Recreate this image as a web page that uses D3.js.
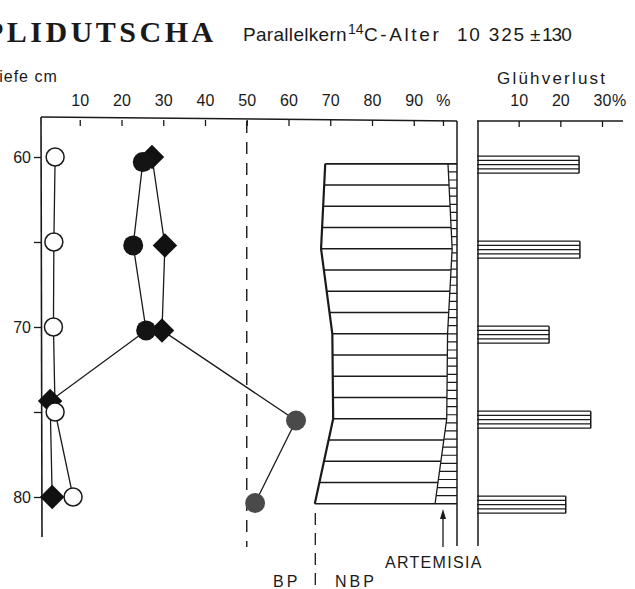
<!DOCTYPE html>
<html>
<head>
<meta charset="utf-8">
<script src="https://cdn.jsdelivr.net/npm/d3@7"></script>
<style>
  body { margin: 0; background: #fff; }
  svg { display: block; }
  text { font-family: "Liberation Sans", Arial, sans-serif; fill: #1a1a1a; }
</style>
</head>
<body>
<svg id="chart" width="635" height="589"></svg>
<script>
// depth samples (cm) and percentages
const openDepths = [60, 65, 70, 75, 80];
const openValues = [4.1, 3.8, 3.7, 4.1, 8.4];

const circleDepths = [60.3, 65.2, 70.2, 75.5, 80.35];
const circleValues = [25.1, 22.8, 25.9, 61.8, 52.0];

const diamondDepths = [60, 65.2, 70.2, 74.35, 80];
const diamondValues = [27.3, 30.4, 29.7, 2.9, 3.4];

// BP / NBP block
const nbpDepths = [60.4, 65.4, 70.4, 75.4, 80.4];
const bpValues = [68.8, 67.8, 70.5, 70.7, 66.3];
const artemisiaValues = [1.8, 0.8, 1.9, 2.1, 4.9];

// Glühverlust
const glDepths = [60, 65, 70, 75, 80];
const glValues = [24.5, 24.7, 17.3, 27.3, 21.3];

const pctTicks = [10, 20, 30, 40, 50, 60, 70, 80, 90, 97];
const pctLabels = ['10', '20', '30', '40', '50', '60', '70', '80', '90', '%'];
const depthTicks = [60, 65, 70, 75, 80];
const glTicks = [10, 20, 30];

const ink = '#1a1a1a';
const svg = d3.select('#chart');

const x = d3.scaleLinear().domain([0, 100]).range([38, 455.5]);
const y = d3.scaleLinear().domain([60, 80]).range([157, 497]);
const gx = d3.scaleLinear().domain([0, 30]).range([477, 602]);

// titles (left edge is cut off in the scan)
svg.append('text').attr('x', -15).attr('y', 42)
  .style('font-family', '"Liberation Serif", serif').style('font-weight', 'bold')
  .style('font-size', '30px').style('letter-spacing', '3.5px')
  .text('PLIDUTSCHA');

const sub = svg.append('g').style('font-size', '19px');
sub.append('text').attr('x', 243).attr('y', 41).style('letter-spacing', '0.3px').text('Parallelkern');
sub.append('text').attr('x', 348).attr('y', 34).style('font-size', '14px').text('14');
sub.append('text').attr('x', 364).attr('y', 41).style('letter-spacing', '2.6px').text('C-Alter');
sub.append('text').attr('x', 457).attr('y', 41).style('letter-spacing', '1.8px').text('10 325');
sub.append('text').attr('x', 530).attr('y', 41).text('±');
sub.append('text').attr('x', 542).attr('y', 41).style('letter-spacing', '-1px').text('130');

svg.append('text').attr('x', -11).attr('y', 82).style('font-size', '16px')
  .style('letter-spacing', '1px').text('Tiefe cm');
svg.append('text').attr('x', 497).attr('y', 84).style('font-size', '17px')
  .style('letter-spacing', '2.2px').text('Glühverlust');

// top percentage axis
const topAxis = svg.append('g').attr('transform', 'translate(0,120)')
  .call(d3.axisTop(x).tickValues(pctTicks)
    .tickFormat((d, i) => pctLabels[i]).tickSizeInner(-6).tickSizeOuter(0).tickPadding(14));
topAxis.select('.domain').remove();
topAxis.selectAll('line').attr('stroke', ink).attr('stroke-width', 1.3);
topAxis.selectAll('text').style('font-size', '16px').attr('fill', ink)
  .style('font-family', '"Liberation Sans", Arial, sans-serif');

svg.append('line').attr('x1', 41).attr('y1', 117).attr('x2', x(100) + 1.5).attr('y2', 121)
  .attr('stroke', ink).attr('stroke-width', 1.6);

// left depth axis
const leftAxis = svg.append('g').attr('transform', 'translate(41,0)')
  .call(d3.axisLeft(y).tickValues(depthTicks)
    .tickFormat(d => d % 10 === 0 ? d : '').tickSize(7).tickPadding(3));
leftAxis.select('.domain').remove();
leftAxis.selectAll('line').attr('stroke', ink).attr('stroke-width', 1.3);
leftAxis.selectAll('text').style('font-size', '16px').attr('fill', ink)
  .style('font-family', '"Liberation Sans", Arial, sans-serif');
svg.append('line').attr('x1', 41).attr('y1', 117).attr('x2', 42).attr('y2', 537)
  .attr('stroke', ink).attr('stroke-width', 1.6);

// 50 % dashed line
svg.append('line').attr('x1', x(50)).attr('x2', x(50)).attr('y1', 121).attr('y2', 547)
  .attr('stroke', ink).attr('stroke-width', 1.4).attr('stroke-dasharray', '12,9');

// NBP block
const nbpLeft = nbpDepths.map((d, i) => [x(bpValues[i]), y(d)]);
const artLeft = nbpDepths.map((d, i) => [x(100 - artemisiaValues[i]), y(d)]);
const right = x(100) + 1.5;
const yTop = y(nbpDepths[0]), yBot = y(nbpDepths[nbpDepths.length - 1]);

const defs = svg.append('defs');
defs.append('clipPath').attr('id', 'nbpClip').append('polygon')
  .attr('points', nbpLeft.concat(artLeft.slice().reverse()).map(p => p.join(',')).join(' '));
defs.append('clipPath').attr('id', 'artClip').append('polygon')
  .attr('points', artLeft.concat([[right, yBot], [right, yTop]]).map(p => p.join(',')).join(' '));

const nbpLines = d3.range(nbpDepths[0], nbpDepths[nbpDepths.length - 1] + 0.01, 1.25);
svg.append('g').attr('clip-path', 'url(#nbpClip)').selectAll('line').data(nbpLines).join('line')
  .attr('x1', 300).attr('x2', right).attr('y1', d => y(d)).attr('y2', d => y(d))
  .attr('stroke', ink).attr('stroke-width', 1.5);
const artLines = d3.range(yTop, yBot + 0.5, (yBot - yTop) / 42);
svg.append('g').attr('clip-path', 'url(#artClip)').selectAll('line').data(artLines).join('line')
  .attr('x1', 420).attr('x2', right).attr('y1', d => d).attr('y2', d => d)
  .attr('stroke', ink).attr('stroke-width', 1.2);

const line = d3.line();
svg.append('path').attr('d', line(nbpLeft)).attr('fill', 'none').attr('stroke', ink).attr('stroke-width', 2.2);
svg.append('path').attr('d', line(artLeft)).attr('fill', 'none').attr('stroke', ink).attr('stroke-width', 1.3);
svg.append('line').attr('x1', nbpLeft[4][0]).attr('x2', right).attr('y1', yBot).attr('y2', yBot)
  .attr('stroke', ink).attr('stroke-width', 1.6);
svg.append('line').attr('x1', nbpLeft[0][0]).attr('x2', right).attr('y1', yTop).attr('y2', yTop)
  .attr('stroke', ink).attr('stroke-width', 1.6);
svg.append('line').attr('x1', right).attr('x2', right).attr('y1', 121).attr('y2', 546)
  .attr('stroke', ink).attr('stroke-width', 1.5);

// NBP dashed divider and labels
svg.append('line').attr('x1', x(bpValues[4]) + 0.5).attr('x2', x(bpValues[4]) + 0.5)
  .attr('y1', 513).attr('y2', 589)
  .attr('stroke', ink).attr('stroke-width', 1.3).attr('stroke-dasharray', '12,8');
svg.append('text').attr('x', 273).attr('y', 587).style('font-size', '16px').style('letter-spacing', '3px').text('BP');
svg.append('text').attr('x', 335).attr('y', 587).style('font-size', '16px').style('letter-spacing', '3px').text('NBP');
svg.append('text').attr('x', 385).attr('y', 568).style('font-size', '16px').style('letter-spacing', '1.3px').text('ARTEMISIA');

// arrow
svg.append('line').attr('x1', 443).attr('x2', 443).attr('y1', 547).attr('y2', 516)
  .attr('stroke', ink).attr('stroke-width', 1.3);
svg.append('path').attr('d', 'M443,509 L440,519 L446,519 Z').attr('fill', ink);

// curves
const ptsA = [0, 1, 2].map(i => [x(circleValues[i]), y(circleDepths[i])])
  .concat([3, 4].map(i => [x(diamondValues[i]), y(diamondDepths[i])]));
const ptsB = [0, 1, 2].map(i => [x(diamondValues[i]), y(diamondDepths[i])])
  .concat([3, 4].map(i => [x(circleValues[i]), y(circleDepths[i])]));
const ptsOpen = openDepths.map((d, i) => [x(openValues[i]), y(d)]);
[ptsA, ptsB, ptsOpen].forEach(p => svg.append('path').attr('d', line(p))
  .attr('fill', 'none').attr('stroke', ink).attr('stroke-width', 1.3));

svg.append('g').selectAll('path').data(diamondDepths).join('path')
  .attr('d', d3.symbol().type(d3.symbolSquare).size(300))
  .attr('transform', (d, i) => `translate(${x(diamondValues[i])},${y(d)}) rotate(45)`)
  .attr('fill', '#111');
svg.append('g').selectAll('circle').data(circleDepths).join('circle')
  .attr('cx', (d, i) => x(circleValues[i])).attr('cy', d => y(d)).attr('r', 10)
  .attr('fill', (d, i) => i < 3 ? '#141414' : '#4a4a4a');
svg.append('g').selectAll('circle').data(openDepths).join('circle')
  .attr('cx', (d, i) => x(openValues[i])).attr('cy', d => y(d)).attr('r', 9)
  .attr('fill', '#fff').attr('stroke', ink).attr('stroke-width', 1.5);

// Glühverlust panel
const glAxis = svg.append('g').attr('transform', 'translate(0,121)')
  .call(d3.axisTop(gx).tickValues(glTicks).tickFormat(d => d)
    .tickSizeInner(-6).tickSizeOuter(0).tickPadding(15));
glAxis.select('.domain').remove();
glAxis.selectAll('line').attr('stroke', ink).attr('stroke-width', 1.3);
glAxis.selectAll('text').style('font-size', '16px').attr('fill', ink)
  .style('font-family', '"Liberation Sans", Arial, sans-serif');
svg.append('text').attr('x', 612).attr('y', 106).style('font-size', '16px').text('%');
svg.append('line').attr('x1', gx(0)).attr('x2', 623).attr('y1', 121).attr('y2', 121)
  .attr('stroke', ink).attr('stroke-width', 1.5);
svg.append('line').attr('x1', gx(0) + 1).attr('x2', gx(0) + 1).attr('y1', 121).attr('y2', 546)
  .attr('stroke', ink).attr('stroke-width', 1.5);

const bars = svg.append('g').selectAll('g').data(glDepths).join('g');
bars.each(function (d, i) {
  const g = d3.select(this);
  const t = y(d - 0.05), b = y(d + 0.95), xr = gx(glValues[i]);
  d3.range(5).forEach(k => {
    const yy = t + (b - t) * k / 4;
    g.append('line').attr('x1', gx(0)).attr('x2', xr).attr('y1', yy).attr('y2', yy)
      .attr('stroke', ink).attr('stroke-width', 1.3);
  });
  g.append('line').attr('x1', xr).attr('x2', xr).attr('y1', t).attr('y2', b)
    .attr('stroke', ink).attr('stroke-width', 1.5);
});
</script>
</body>
</html>
